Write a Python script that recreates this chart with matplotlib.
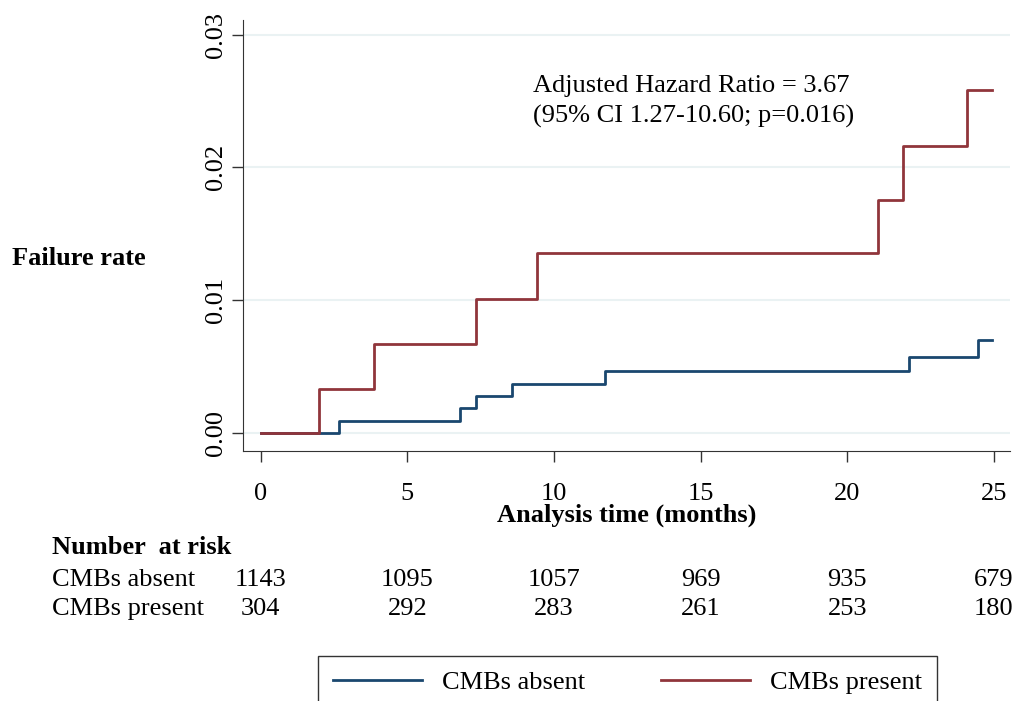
import matplotlib
matplotlib.use("Agg")
import matplotlib.pyplot as plt

# Kaplan-Meier failure curves (time in months, cumulative failure)
absent_t = [0, 2.68, 6.79, 7.36, 8.56, 11.74, 22.11, 24.45, 24.92]
absent_y = [0, 0.00088, 0.00188, 0.00278, 0.00368, 0.00464, 0.00569, 0.0070, 0.0070]
present_t = [0, 2.0, 3.87, 7.33, 9.44, 21.06, 21.89, 24.07, 24.92]
present_y = [0, 0.00333, 0.00671, 0.0101, 0.01353, 0.01752, 0.0216, 0.0258, 0.0258]

risk_times = [0, 5, 10, 15, 20, 25]
risk_absent = [1143, 1095, 1057, 969, 935, 679]
risk_present = [304, 292, 283, 261, 253, 180]

blue = "#1a476f"
red = "#90353b"
grid_c = "#eaf2f3"

plt.rcParams["font.family"] = ["Liberation Serif", "DejaVu Serif"]
fs = 19

W, H = 1018, 701
fig = plt.figure(figsize=(W / 100, H / 100), dpi=100)
ax = fig.add_axes([243 / W, 1 - 450.7 / H, (1010 - 243) / W, (450.7 - 20) / H])

ax.step(absent_t, absent_y, where="post", color=blue, lw=2, zorder=3)
ax.step(present_t, present_y, where="post", color=red, lw=2, zorder=4)

ax.set_xlim(-0.6, 25.55)
ax.set_ylim(-0.00133, 0.0311)
ax.set_xticks(risk_times)
ax.set_yticks([0, 0.01, 0.02, 0.03])
ax.set_yticklabels(["0.00", "0.01", "0.02", "0.03"], rotation=90, va="center")
ax.tick_params(labelsize=fs, length=8, width=1, color="#333333")
ax.tick_params(axis="x", pad=15)
ax.grid(axis="y", color=grid_c, lw=1.5)
ax.set_axisbelow(True)
for s in ["top", "right"]:
    ax.spines[s].set_visible(False)
for s in ["left", "bottom"]:
    ax.spines[s].set_color("#333333")

ax.set_xlabel("Analysis time (months)", fontsize=fs, fontweight="bold", labelpad=-1)
fig.text(12 / W, 1 - 258 / H, "Failure rate", fontsize=fs, fontweight="bold", va="center")

ax.text(9.3, 0.0230, "Adjusted Hazard Ratio = 3.67\n(95% CI 1.27-10.60; p=0.016)",
        fontsize=fs, va="bottom", ha="left", linespacing=1.45)

# number at risk table
fig.text(52 / W, 1 - 547 / H, "Number  at risk", fontsize=fs, fontweight="bold", va="center")
fig.text(52 / W, 1 - 580 / H, "CMBs absent", fontsize=fs, va="center")
fig.text(52 / W, 1 - 609 / H, "CMBs present", fontsize=fs, va="center")
for t, a, p in zip(risk_times, risk_absent, risk_present):
    xf = (ax.transData.transform((t, 0))[0]) / W
    fig.text(xf, 1 - 580 / H, str(a), fontsize=fs, va="center", ha="center")
    fig.text(xf, 1 - 609 / H, str(p), fontsize=fs, va="center", ha="center")

h1, = ax.plot([], [], color=blue, lw=2)
h2, = ax.plot([], [], color=red, lw=2)
top = 1 - 656 / H
leg = fig.legend([h1, h2], ["CMBs absent", "CMBs present"], ncol=2,
                 loc="upper left", mode="expand", borderaxespad=0,
                 bbox_to_anchor=(318 / W, top - 0.1, (937 - 318) / W, 0.1),
                 fontsize=fs, frameon=True, fancybox=False, edgecolor="black",
                 handlelength=3.4, handletextpad=0.76, borderpad=0.55)
leg.get_frame().set_linewidth(1)

fig.savefig("out.png", dpi=100)
